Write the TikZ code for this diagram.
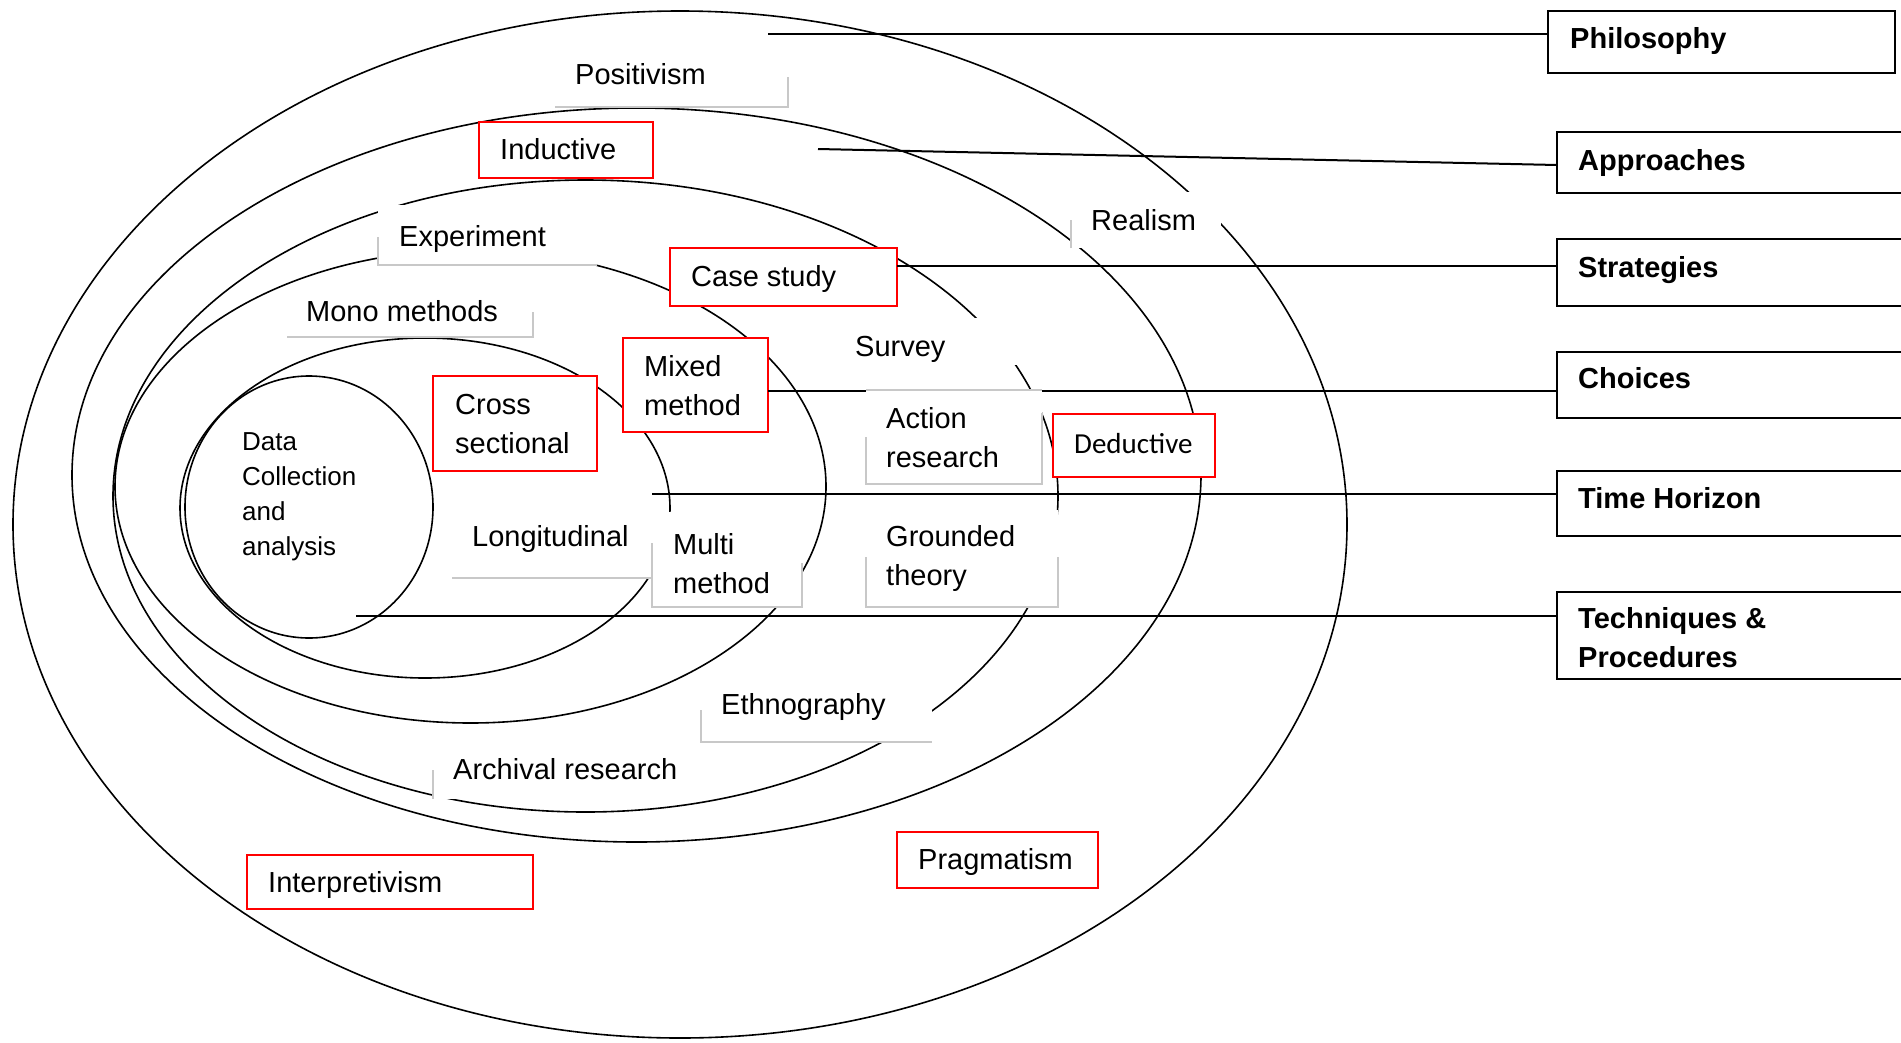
\documentclass[tikz,border=0pt]{standalone}
\usepackage{fontspec}
\setmainfont{Liberation Sans}
\newfontfamily\calibri{Carlito}
\definecolor{boxred}{RGB}{255,0,0}
\definecolor{rimgray}{RGB}{200,200,200}
\begin{document}
\begin{tikzpicture}[x=1pt,y=-1pt,
  ring/.style={line width=1.6pt},
  link/.style={line width=2pt},
  wh/.style 2 args={minimum width=#1pt, minimum height=#2pt},
  panel/.style={fill=white, draw=none, inner sep=0pt, outer sep=0pt, anchor=north west},
  redbox/.style={panel, draw=boxred, line width=2.2pt},
  layerbox/.style={panel, draw=black, line width=2.2pt},
  rim/.style={draw=rimgray, line width=1.2pt},
  lbl/.style={anchor=base west, inner sep=0pt, align=left, font=\fontsize{29}{39}\selectfont},
  small/.style={lbl, font=\fontsize{26}{35}\selectfont},
  head/.style={lbl, font=\fontsize{29}{39}\selectfont\bfseries},
]
\useasboundingbox (0,0) rectangle (1901,1042);
\fill[white] (0,0) rectangle (1901,1042);

% the onion layers
\draw[ring] (680,524.5) ellipse [x radius=667pt, y radius=513.5pt];
\draw[ring] (636.5,475) ellipse [x radius=564.5pt, y radius=367pt];
\draw[ring] (585.5,496) ellipse [x radius=472.5pt, y radius=316pt];
\draw[ring] (470.5,486.5) ellipse [x radius=355.5pt, y radius=236.5pt];
\draw[ring] (425,508) ellipse [x radius=245pt, y radius=170pt];
\draw[ring] (309,507) ellipse [x radius=124pt, y radius=131pt];

% layer name boxes on the right
\node[layerbox, wh={347}{62}] (phi) at (1548,11) {};
\node[layerbox, wh={360}{61}] (app) at (1557,132) {};
\node[layerbox, wh={360}{67}] (str) at (1557,239) {};
\node[layerbox, wh={360}{66}] (cho) at (1557,352) {};
\node[layerbox, wh={360}{65}] (tim) at (1557,471) {};
\node[layerbox, wh={360}{87}] (tec) at (1557,592) {};

% highlighted options
\node[redbox, wh={174}{56}] (ind) at (479,122) {};
\node[redbox, wh={227}{58}] (cas) at (670,248) {};
\node[redbox, wh={164}{95}] (cro) at (433,376) {};
\node[redbox, wh={145}{94}] (mix) at (623,338) {};
\node[redbox, wh={162}{63}] (ded) at (1053,414) {};
\node[redbox, wh={286}{54}] (int) at (247,855) {};
\node[redbox, wh={201}{56}] (pra) at (897,832) {};

% leader lines to the layer names
\coordinate (pL) at (768,34);
\coordinate (aL) at (818,149);
\coordinate (sL) at (897,266);
\coordinate (cL) at (768,391);
\coordinate (tL) at (652,494);
\coordinate (qL) at (356,616);
\draw[link] (pL) -- (pL -| phi.west);
\draw[link] (aL) -- ([yshift=-2.5pt]app.west);
\draw[link] (sL) -- (sL -| str.west);
\draw[link] (cL) -- (cL -| cho.west);
\draw[link] (tL) -- (tL -| tim.west);
\draw[link] (qL) -- (qL -| tec.west);

% white label panels
\node[panel, wh={233}{62}] (posP) at (555,45) {};
\node[panel, wh={150}{56}] (reaP) at (1071,192) {};
\node[panel, wh={219}{60}] (expP) at (378,205) {};
\node[panel, wh={246}{47}] (monP) at (287,290) {};
\node[panel, wh={187}{47}] (surP) at (838,318) {};
\node[panel, wh={176}{94}] (actP) at (866,390) {};
\node[panel, wh={192}{97}] (groP) at (866,510) {};
\node[panel, wh={200}{93}] (lonP) at (452,485) {};
\node[panel, wh={150}{95}] (mulP) at (652,512) {};
\node[panel, wh={231}{62}] (ethP) at (701,680) {};
\node[panel, wh={267}{59}] (arcP) at (433,740) {};

% faint panel frames
\draw[rim] ([yshift=30pt]posP.south east) -- (posP.south east) -- (posP.south west);
\draw[rim] ([yshift=28pt]reaP.south west) -- (reaP.south west);
\draw[rim] ([yshift=28pt]expP.south west) -- (expP.south west) -- (expP.south east);
\draw[rim] ([yshift=25pt]monP.south east) -- (monP.south east) -- (monP.south west);
\draw[rim] (actP.north west) -- (actP.north east);
\draw[rim] ([yshift=47pt]actP.south west) -- (actP.south west) -- (actP.south east) -- ([yshift=71pt]actP.south east);
\draw[rim] ([yshift=50pt]groP.south west) -- (groP.south west) -- (groP.south east) -- ([yshift=50pt]groP.south east);
\draw[rim] (lonP.south west) -- (lonP.south east);
\draw[rim] ([yshift=64pt]mulP.south west) -- (mulP.south west) -- (mulP.south east) -- ([yshift=44pt]mulP.south east);
\draw[rim] ([yshift=32pt]ethP.south west) -- (ethP.south west) -- (ethP.south east);
\draw[rim] ([yshift=29pt]arcP.south west) -- (arcP.south west);

% labels (multi-line labels are placed by the baseline of their last line)
\node[lbl] (tPos) at (575,84) {Positivism};
\node[lbl] (tInd) at (500,159) {Inductive};
\node[lbl] (tRea) at (1091,230) {Realism};
\node[lbl] (tExp) at (399,246) {Experiment};
\node[lbl] (tCas) at (691,286) {Case study};
\node[lbl] (tMon) at (306,321) {Mono methods};
\node[lbl] (tSur) at (855,356) {Survey};
\node[lbl] (tMix) at (644,415) {Mixed\\method};
\node[lbl] (tCro) at (455,453) {Cross\\sectional};
\node[lbl] (tAct) at (886,467) {Action\\research};
\node[lbl, font=\fontsize{29}{39}\calibri] (tDed) at (1074,453) {Deductive};
\node[small] (tDat) at (242,555) {Data\\Collection\\and\\analysis};
\node[lbl] (tLon) at (472,546) {Longitudinal};
\node[lbl] (tMul) at (673,593) {Multi\\method};
\node[lbl] (tGro) at (886,585) {Grounded\\theory};
\node[lbl] (tEth) at (721,714) {Ethnography};
\node[lbl] (tArc) at (453,779) {Archival research};
\node[lbl] (tInt) at (268,892) {Interpretivism};
\node[lbl] (tPra) at (918,869) {Pragmatism};

\node[head] (hPhi) at (1570,48) {Philosophy};
\node[head] (hApp) at (1578,170) {Approaches};
\node[head] (hStr) at (1578,277) {Strategies};
\node[head] (hCho) at (1578,388) {Choices};
\node[head] (hTim) at (1578,508) {Time Horizon};
\node[head] (hTec) at (1578,667) {Techniques \&\\Procedures};
\end{tikzpicture}
\end{document}
